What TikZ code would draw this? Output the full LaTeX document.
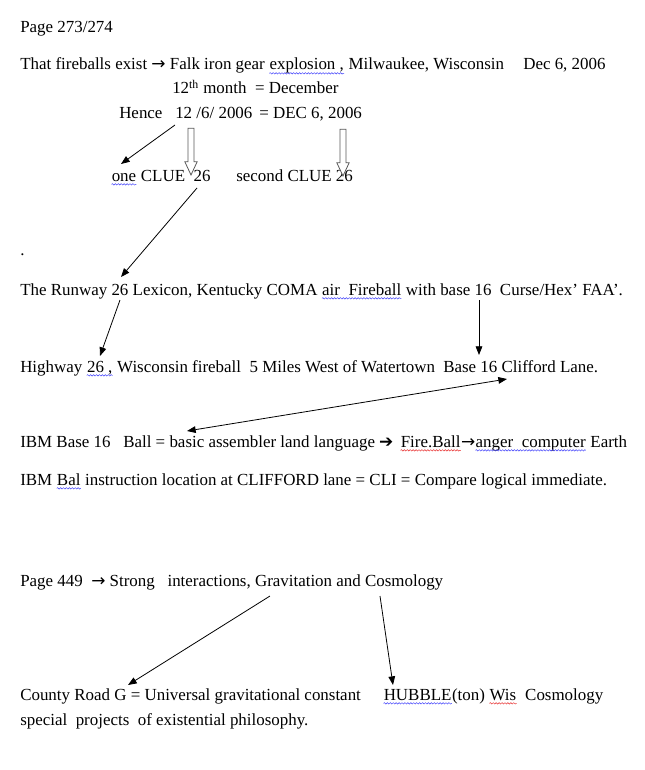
\documentclass[tikz,border=0pt]{standalone}
\usepackage{fontspec}
\setmainfont{Liberation Serif}
\newfontfamily\symfont{DejaVu Sans}
\usepackage{xcolor}
\usetikzlibrary{arrows.meta, shapes.arrows, decorations.pathmorphing}
\definecolor{spellblue}{RGB}{60, 60, 250}
\definecolor{spellred}{RGB}{230, 40, 40}
\definecolor{blockgray}{RGB}{89, 89, 89}
\tikzset{
  wavy/.style={line width=0.35pt, decorate,
    decoration={snake, amplitude=0.55pt, segment length=2.2pt}}
}
\newcommand{\spellwave}[2]{\tikz[baseline=(w.base)]{\node[inner sep=0pt, anchor=base] (w) {#2};
  \draw[wavy, #1] ([yshift=-2.5pt]w.base west) -- ([yshift=-2.5pt]w.base east);}}
\newcommand{\bluewave}[1]{\spellwave{spellblue}{#1}}
\newcommand{\redwave}[1]{\spellwave{spellred}{#1}}
\newcommand{\thinarr}{{\symfont →}}
\newcommand{\heavyarr}{{\symfont ➔}}

\begin{document}
\begin{tikzpicture}[
  x=0.75pt, y=-0.75pt,
  txt/.style={anchor=base west, inner sep=0pt, font=\fontsize{12.7}{15}\selectfont},
  arr/.style={-{Triangle[length=6.5pt, width=5pt]}, line width=0.6pt},
  dblarr/.style={{Triangle[length=6.5pt, width=5pt]}-{Triangle[length=6.5pt, width=5pt]}, line width=0.6pt},
  blockarr/.style={single arrow, draw=blockgray, fill=white, line width=0.6pt, rotate=-90,
    minimum height=35pt, minimum width=0pt, inner xsep=0pt, inner ysep=1.9pt,
    single arrow head extend=2.4pt, single arrow tip angle=50}
]
\useasboundingbox (0,0) rectangle (644,770);

% Page 273 block
\node[txt] (page) at (20,33) {Page 273/274};
\node[txt] (fireballs) at (20,70) {That fireballs exist \thinarr{} Falk iron gear \bluewave{explosion ,} Milwaukee, Wisconsin};
\node[txt] (decdate) at (523,70) {Dec 6, 2006};
\node[txt] (month) at (172,94) {12\textsuperscript{th} month~ = December};
\node[txt] (hence) at (119,118) {Hence};
\node[txt] (slashdate) at (175,118) {12 /6/ 2006};
\node[txt] (decequal) at (259,118) {= DEC 6, 2006};
\node[txt] (clueone) at (111,181) {\bluewave{one} CLUE~ 26};
\node[txt] (cluetwo) at (236,181) {second CLUE 26};
\node[txt] (dot) at (20,255) {.};

% Runway and highway
\node[txt] (runway) at (20,295) {The Runway 26 Lexicon, Kentucky COMA \bluewave{air~ Fireball} with base 16~ Curse/Hex’ FAA’.};
\node[txt] (highway) at (20,372) {Highway \bluewave{26 ,} Wisconsin fireball~ 5 Miles West of Watertown};
\node[txt] (clifford) at (443,372) {Base 16 Clifford Lane.};

% IBM lines
\node[txt] (ibmball) at (20,447) {IBM Base 16~~ Ball = basic assembler land language \heavyarr};
\node[txt] (fireball) at (400,447) {\redwave{Fire.Ball}\thinarr\bluewave{anger~ computer} Earth};
\node[txt] (ibmbal) at (20,485) {IBM \bluewave{Bal} instruction location at CLIFFORD lane = CLI = Compare logical immediate.};

% Page 449 block
\node[txt] (pagefour) at (20,586) {Page 449~ \thinarr{} Strong~~ interactions, Gravitation and Cosmology};
\node[txt] (county) at (20,700) {County Road G = Universal gravitational constant};
\node[txt] (hubble) at (383,700) {\bluewave{HUBBLE}(ton) \redwave{Wis}~ Cosmology};
\node[txt] (special) at (20,725) {special~ projects~ of existential philosophy.};

% Arrow ends
\coordinate (hence-out) at (175,125);
\coordinate (one-in) at (121,164);
\coordinate (clue-out) at (197,188);
\coordinate (runway-in) at (121,277);
\coordinate (runway-out) at (120,300);
\coordinate (highway-in) at (100,356);
\coordinate (base-out) at (479,300);
\coordinate (base-in) at (479,355);
\coordinate (ball-end) at (187,431);
\coordinate (lane-end) at (507,379);
\coordinate (grav-out) at (270,596);
\coordinate (county-in) at (128,685);
\coordinate (cosmo-out) at (380,596);
\coordinate (hubble-in) at (393,685);

% Block arrows
\node[blockarr] (blockone) at (191,148.5) {};
\node[blockarr] (blocktwo) at (343,149.5) {};

% Arrows
\draw[arr] (hence-out) -- (one-in);
\draw[arr] (clue-out) -- (runway-in);
\draw[arr] (runway-out) -- (highway-in);
\draw[arr] (base-out) -- (base-in);
\draw[dblarr] (ball-end) -- (lane-end);
\draw[arr] (grav-out) -- (county-in);
\draw[arr] (cosmo-out) -- (hubble-in);

\end{tikzpicture}
\end{document}
